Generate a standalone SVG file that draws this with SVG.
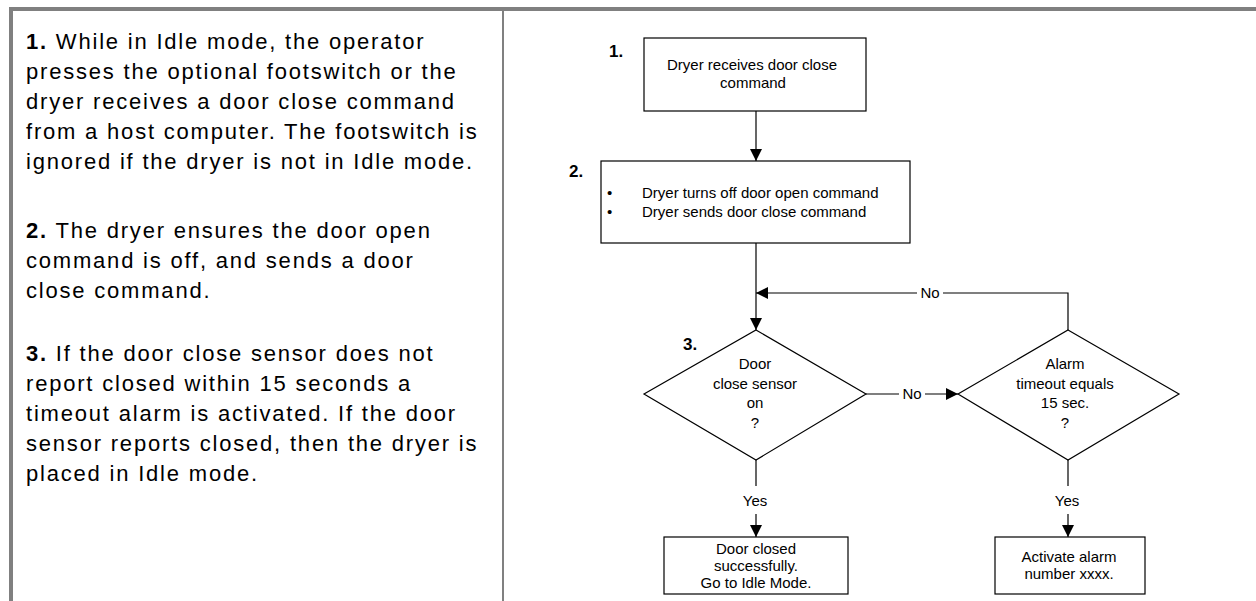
<svg xmlns="http://www.w3.org/2000/svg" width="1256" height="601" viewBox="0 0 1256 601">
<defs>
<style>
.frame{stroke:#808080;fill:none}
.desc{font-family:"Liberation Sans",Arial,sans-serif;font-size:22px;letter-spacing:1.8px;fill:#000}
.b{font-weight:bold}
.shape{fill:#fff;stroke:#000;stroke-width:1.2}
.t{font-family:"Liberation Sans",Arial,sans-serif;font-size:15px;fill:#000}
.c{text-anchor:middle}
.num{font-family:"Liberation Sans",Arial,sans-serif;font-size:17px;font-weight:bold;fill:#000}
.line{stroke:#000;stroke-width:1.2;fill:none}
.lbl{font-family:"Liberation Sans",Arial,sans-serif;font-size:15px;fill:#000;text-anchor:middle}
</style>
<marker id="arr" markerWidth="12" markerHeight="12" refX="12" refY="6" orient="auto" markerUnits="userSpaceOnUse">
<path d="M0,0 L12,6 L0,12 Z" fill="#000"/>
</marker>
</defs>
<rect width="1256" height="601" fill="#fff"/>
<g id="frame">
<line class="frame" x1="9" y1="9" x2="1256" y2="9" stroke-width="4"/>
<line class="frame" x1="11" y1="7" x2="11" y2="601" stroke-width="4"/>
<line class="frame" x1="503" y1="9" x2="503" y2="601" stroke-width="2"/>
</g>
<g id="description">
<text class="desc" x="26" y="49"><tspan class="b">1.</tspan> While in Idle mode, the operator</text>
<text class="desc" x="26" y="79">presses the optional footswitch or the</text>
<text class="desc" x="26" y="109">dryer receives a door close command</text>
<text class="desc" x="26" y="139">from a host computer. The footswitch is</text>
<text class="desc" x="26" y="169">ignored if the dryer is not in Idle mode.</text>
<text class="desc" x="26" y="238"><tspan class="b">2.</tspan> The dryer ensures the door open</text>
<text class="desc" x="26" y="268">command is off, and sends a door</text>
<text class="desc" x="26" y="298">close command.</text>
<text class="desc" x="26" y="361"><tspan class="b">3.</tspan> If the door close sensor does not</text>
<text class="desc" x="26" y="391">report closed within 15 seconds a</text>
<text class="desc" x="26" y="421">timeout alarm is activated. If the door</text>
<text class="desc" x="26" y="451">sensor reports closed, then the dryer is</text>
<text class="desc" x="26" y="481">placed in Idle mode.</text>
</g>
<g id="connectors">
<line class="line" x1="756" y1="111" x2="756" y2="161" marker-end="url(#arr)"/>
<line class="line" x1="756" y1="243" x2="756" y2="330" marker-end="url(#arr)"/>
<polyline class="line" points="1068,330 1068,293 756,293" marker-end="url(#arr)"/>
<line class="line" x1="866" y1="394" x2="958" y2="394" marker-end="url(#arr)"/>
<line class="line" x1="756" y1="460" x2="756" y2="537" marker-end="url(#arr)"/>
<line class="line" x1="1068" y1="460" x2="1068" y2="537" marker-end="url(#arr)"/>
<rect x="917" y="284" width="26" height="18" fill="#fff"/>
<text class="lbl" x="930" y="298">No</text>
<rect x="899" y="385" width="26" height="18" fill="#fff"/>
<text class="lbl" x="912" y="399">No</text>
<rect x="740" y="486" width="32" height="28" fill="#fff"/>
<text class="lbl" x="755" y="506">Yes</text>
<rect x="1052" y="486" width="32" height="28" fill="#fff"/>
<text class="lbl" x="1067" y="506">Yes</text>
</g>
<g id="node1">
<rect class="shape" x="644" y="38" width="222" height="73"/>
<text class="t c" x="752" y="70">Dryer receives door close</text>
<text class="t c" x="753" y="88">command</text>
<text class="num" x="609" y="57">1.</text>
</g>
<g id="node2">
<rect class="shape" x="601" y="161" width="309" height="82"/>
<text class="t" x="607" y="198">•</text>
<text class="t" x="642" y="198">Dryer turns off door open command</text>
<text class="t" x="607" y="217">•</text>
<text class="t" x="642" y="217">Dryer sends door close command</text>
<text class="num" x="569" y="177">2.</text>
</g>
<g id="node3">
<polygon class="shape" points="756,330 866,394 756,460 644,394"/>
<text class="t c" x="755" y="369">Door</text>
<text class="t c" x="755" y="389">close sensor</text>
<text class="t c" x="755" y="408">on</text>
<text class="t c" x="755" y="428">?</text>
<text class="num" x="683" y="350">3.</text>
</g>
<g id="node4">
<polygon class="shape" points="1068,330 1179,394 1068,460 958,394"/>
<text class="t c" x="1065" y="369">Alarm</text>
<text class="t c" x="1065" y="389">timeout equals</text>
<text class="t c" x="1065" y="408">15 sec.</text>
<text class="t c" x="1065" y="428">?</text>
</g>
<g id="node5">
<rect class="shape" x="664" y="537" width="184" height="57"/>
<text class="t c" x="756" y="554">Door closed</text>
<text class="t c" x="756" y="571">successfully.</text>
<text class="t c" x="756" y="588">Go to Idle Mode.</text>
</g>
<g id="node6">
<rect class="shape" x="995" y="537" width="150" height="57"/>
<text class="t c" x="1069" y="562">Activate alarm</text>
<text class="t c" x="1069" y="579">number xxxx.</text>
</g>
</svg>
